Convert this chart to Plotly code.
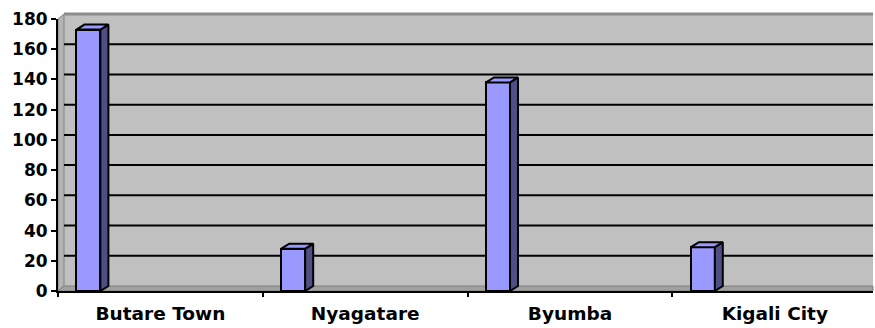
import plotly.graph_objects as go

# ---- data ----
categories = ["Butare Town", "Nyagatare", "Byumba", "Kigali City"]
values = [173, 28, 138, 29]
y_ticks = [0, 20, 40, 60, 80, 100, 120, 140, 160, 180]

# ---- layout constants ----
W, H = 875, 328
ML, MR, MT, MB = 58, 2, 19, 37
PW = W - ML - MR
PH = H - MT - MB
Y_MAX = 180
X_MIN = -0.5
PX_PER_CAT = 204.8
X_MAX = X_MIN + PW / PX_PER_CAT

BAR_OFFSET = -0.41
BAR_WIDTH = 0.117
BAR_DEPTH_PX = (8, 5)
WALL_DEPTH_PX = (6, 5)

FRONT = "#9999FF"
SIDE = "#4F4F88"
WALL = "#C0C0C0"

dxb = BAR_DEPTH_PX[0] / PX_PER_CAT
dyb = BAR_DEPTH_PX[1] * Y_MAX / PH
dxw = WALL_DEPTH_PX[0] / PW
dyw = WALL_DEPTH_PX[1] / PH

xs = list(range(len(categories)))

fig = go.Figure()

# front faces
fig.add_trace(go.Bar(
    x=xs, y=values, offset=BAR_OFFSET, width=BAR_WIDTH,
    marker=dict(color=FRONT, line=dict(color="black", width=2)),
    showlegend=False, hoverinfo="skip",
))

# side and top faces (computed from the data values)
side_x, side_y, top_x, top_y = [], [], [], []
for i, v in zip(xs, values):
    xl = i + BAR_OFFSET
    xr = xl + BAR_WIDTH
    side_x += [xr, xr, xr + dxb, xr + dxb, xr, None]
    side_y += [0, v, v + dyb, dyb, 0, None]
    top_x += [xl, xr, xr + dxb, xl + dxb, xl, None]
    top_y += [v, v, v + dyb, v + dyb, v, None]

fig.add_trace(go.Scatter(
    x=side_x, y=side_y, mode="lines", fill="toself", fillcolor=SIDE,
    line=dict(color="black", width=2), showlegend=False, hoverinfo="skip",
))
fig.add_trace(go.Scatter(
    x=top_x, y=top_y, mode="lines", fill="toself", fillcolor=FRONT,
    line=dict(color="black", width=2), showlegend=False, hoverinfo="skip",
))

# invisible trace to hold the boundary-tick axis
fig.add_trace(go.Scatter(
    x=[X_MIN], y=[0], xaxis="x2", yaxis="y", mode="markers",
    marker=dict(opacity=0), showlegend=False, hoverinfo="skip",
))

shapes = []
# back wall
shapes.append(dict(type="rect", xref="paper", yref="paper",
                   x0=dxw, x1=1, y0=dyw, y1=1 + dyw,
                   fillcolor=WALL, line=dict(width=0), layer="below"))
# left side wall
shapes.append(dict(type="path", xref="paper", yref="paper",
                   path=f"M 0,0 L 0,1 L {dxw},{1 + dyw} L {dxw},{dyw} Z",
                   fillcolor="#B4B4B4", line=dict(color="#808080", width=1),
                   layer="below"))
# floor
shapes.append(dict(type="path", xref="paper", yref="paper",
                   path=f"M 0,0 L 1,0 L 1,{dyw} L {dxw},{dyw} Z",
                   fillcolor="#A0A0A0", line=dict(color="#808080", width=1),
                   layer="below"))
# top border of the back wall
shapes.append(dict(type="line", xref="paper", yref="paper",
                   x0=dxw, x1=1, y0=1 + dyw, y1=1 + dyw,
                   line=dict(color="#8C8C8C", width=3), layer="below"))
# gridlines on the back wall
for t in y_ticks[1:-1]:
    shapes.append(dict(type="line", xref="paper", yref="y",
                       ysizemode="pixel", yanchor=t,
                       x0=dxw, x1=1, y0=WALL_DEPTH_PX[1], y1=WALL_DEPTH_PX[1],
                       line=dict(color="black", width=2), layer="below"))

tick_font = dict(family="DejaVu Sans", size=17, color="black", weight="bold")
cat_font = dict(family="DejaVu Sans", size=18.5, color="black", weight="bold")

fig.update_layout(
    width=W, height=H,
    margin=dict(l=ML, r=MR, t=MT, b=MB, pad=0, autoexpand=False),
    paper_bgcolor="white", plot_bgcolor="white",
    hovermode=False,
    shapes=shapes,
    bargap=0,
    xaxis=dict(
        range=[X_MIN, X_MAX], tickvals=xs, ticktext=categories,
        ticks="", showgrid=False, zeroline=False, automargin=False,
        showline=True, linecolor="black", linewidth=2,
        tickfont=cat_font, ticklabelstandoff=5, fixedrange=True,
    ),
    xaxis2=dict(
        overlaying="x", anchor="y", side="bottom", automargin=False,
        range=[X_MIN, X_MAX],
        tickvals=[x - 0.5 for x in xs],
        ticks="outside", ticklen=5, tickwidth=2, tickcolor="black",
        showticklabels=False, showgrid=False, zeroline=False, showline=False,
    ),
    yaxis=dict(
        range=[0, Y_MAX], tickvals=y_ticks, automargin=False,
        ticks="outside", ticklen=5, tickwidth=2, tickcolor="black",
        showline=True, linecolor="black", linewidth=2,
        showgrid=False, zeroline=False, tickfont=tick_font,
    ),
)

fig.write_html("out.html")
